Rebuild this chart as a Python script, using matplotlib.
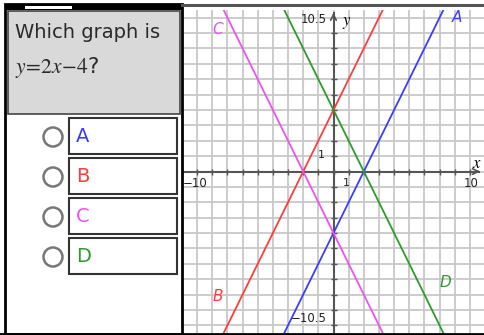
import matplotlib
matplotlib.use("Agg")
import matplotlib.pyplot as plt
from matplotlib.patches import Rectangle, Circle
import numpy as np

plt.rcParams['font.family'] = ['DejaVu Sans']
plt.rcParams['mathtext.fontset'] = 'stix'

# the four candidate graphs
names = ['A', 'B', 'C', 'D']
slopes = [2, 2, -2, -2]
intercepts = [-4, 4, -4, 4]
colors = ['#3c3cff', '#ff3c3c', '#f050f0', '#2e9a2e']
# where each letter sits by its line (graph coords)
label_x = [7.8, -8.0, -8.0, 7.0]
label_y = [10.0, -8.1, 9.2, -7.2]

xmin, xmax = -10, 10
ymin, ymax = -10.5, 10.5

W, H = 485, 335
fig = plt.figure(figsize=(W / 100, H / 100), dpi=100)

# graph area
ax = fig.add_axes([182 / W, 2 / H, 303 / W, 323 / H])
ax.set_xlim(xmin, xmax)
ax.set_ylim(ymin, ymax)
ax.set_xticks(range(-10, 11))
ax.set_yticks(range(-10, 11))
ax.tick_params(length=0, labelbottom=False, labelleft=False)
ax.grid(True, color='#c8c8c8', lw=1.3)
ax.set_axisbelow(True)
for s in ax.spines.values():
    s.set_visible(False)

# axes with little ticks and arrows
ax.plot([xmin, 9.6], [0, 0], color='#555555', lw=1.5)
ax.plot([0, 0], [ymin, 10.3], color='#555555', lw=1.5)
ticks = np.arange(-10, 10)
ax.plot(ticks, np.zeros_like(ticks), ls='none', marker='|', ms=5, color='#555555', mew=1)
ax.plot(np.zeros_like(ticks), ticks, ls='none', marker='_', ms=5, color='#555555', mew=1)
ax.annotate('', xy=(9.85, 0), xytext=(9.3, 0),
            arrowprops=dict(arrowstyle='->', color='#555555', lw=1.2))
ax.annotate('', xy=(0, 10.5), xytext=(0, 9.9),
            arrowprops=dict(arrowstyle='->', color='#555555', lw=1.2))

xs = np.array([xmin, xmax], dtype=float)
for n, m, b, c, lx, ly in zip(names, slopes, intercepts, colors, label_x, label_y):
    ax.plot(xs, m * xs + b, color=c, lw=1.3)
    ax.text(lx, ly, n, color=c, fontsize=11, style='italic', ha='left', va='center')

ax.text(-0.45, 9.85, '10.5', fontsize=8.5, ha='right', va='center', color='#222222')
ax.text(-0.45, -9.55, '\u221210.5', fontsize=8.5, ha='right', va='center', color='#222222')
ax.text(-9.95, -0.75, '\u221210', fontsize=8.5, ha='left', va='center', color='#222222')
ax.text(9.6, -0.75, '10', fontsize=8.5, ha='right', va='center', color='#222222')
ax.text(-0.55, 1.05, '1', fontsize=8, ha='right', va='center', color='#222222')
ax.text(0.6, -0.75, '1', fontsize=8, ha='left', va='center', color='#222222')
ax.text(9.45, 0.55, '$x$', fontsize=12, ha='center', va='center')
ax.text(0.85, 9.75, '$y$', fontsize=12, ha='center', va='center')

# overlay in pixel coords for the question panel and frame
ov = fig.add_axes([0, 0, 1, 1], zorder=10)
ov.set_xlim(0, W)
ov.set_ylim(H, 0)
ov.axis('off')
ov.patch.set_alpha(0)

ov.add_patch(Rectangle((8, 11), 172, 103, fc='#d9d9d9', ec='#444444', lw=1.2))
ov.add_patch(Rectangle((5, 4), 177, 330, fc='none', ec='black', lw=2))
ov.add_patch(Rectangle((5, 4), 177, 6, fc='black', ec='none'))
ov.add_patch(Rectangle((25, 6), 47, 3, fc='white', ec='none'))
ov.plot([182, W], [5, 5], color='#555555', lw=2.2)
ov.plot([0, W], [334, 334], color='black', lw=2)

ov.text(15, 33, 'Which graph is', fontsize=14, ha='left', va='center', color='#2a2a2a')
ov.text(15, 68, r'$y\!=\!2x\!-\!4$?', fontsize=15.5, ha='left', va='center', color='#2a2a2a')

for i, (n, c) in enumerate(zip(names, colors)):
    cy = 137 + 40 * i
    ov.add_patch(Circle((53, cy), 9.5, fill=False, ec='#777777', lw=1.8))
    ov.add_patch(Rectangle((69, cy - 19), 108, 36, fc='white', ec='#333333', lw=1.5))
    ov.text(76, cy, n, color=c, fontsize=14, ha='left', va='center')

fig.savefig('out.png', dpi=100)
